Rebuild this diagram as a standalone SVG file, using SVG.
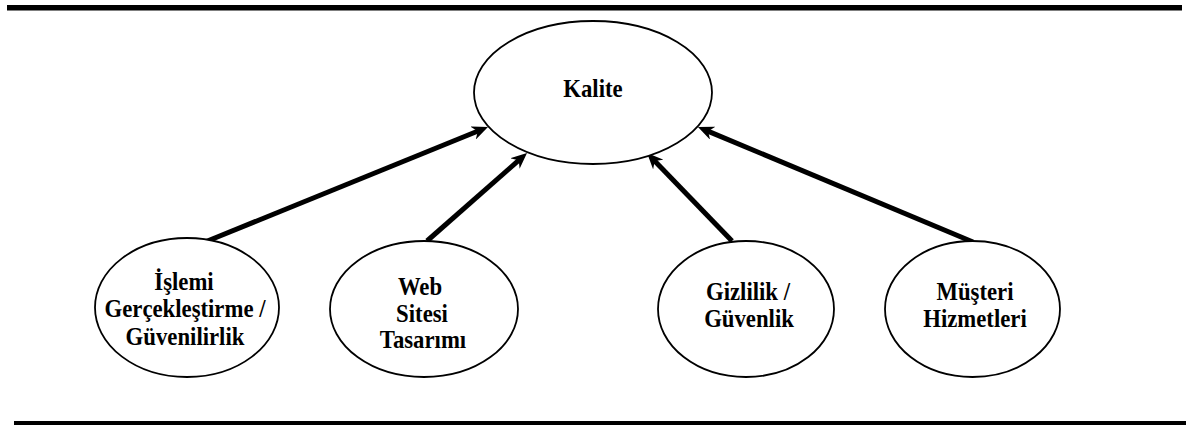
<svg xmlns="http://www.w3.org/2000/svg" width="1186" height="425" viewBox="0 0 1186 425">
  <style>
    .rule { fill: #000; }
    .node { fill: #fff; stroke: #000; stroke-width: 1.8; }
    .label { font-family: "Liberation Serif", "Times New Roman", serif; font-weight: bold; font-size: 25px; fill: #000; text-anchor: middle; }
    .link { stroke: #000; stroke-width: 5; fill: none; marker-end: url(#head); }
  </style>
  <defs>
    <marker id="head" viewBox="0 0 16 14" markerWidth="16" markerHeight="14" refX="6" refY="7" orient="auto" markerUnits="userSpaceOnUse">
      <path d="M0,0 L16,7 L0,14 L5,7 Z" fill="#000"/>
    </marker>
  </defs>

  <!-- horizontal rules -->
  <rect class="rule" x="7" y="5" width="1175" height="5.5"/>
  <rect class="rule" x="14" y="421" width="1172" height="5"/>

  <!-- connectors -->
  <g id="connectors">
    <line class="link" x1="205" y1="242" x2="478.7" y2="130.8"/>
    <line class="link" x1="427" y1="241" x2="519.5" y2="159.6"/>
    <line class="link" x1="732" y1="241" x2="654.0" y2="160.2"/>
    <line class="link" x1="973" y1="242" x2="707.2" y2="130.9"/>
  </g>

  <!-- nodes (labels are set slightly condensed) -->
  <g id="kalite">
    <ellipse class="node" cx="593" cy="92.5" rx="119" ry="71.5"/>
    <text class="label" transform="translate(593 97) scale(0.91 1)">Kalite</text>
  </g>
  <g id="islemi">
    <ellipse class="node" cx="187" cy="307.5" rx="92" ry="69.5"/>
    <text class="label" transform="translate(184 290) scale(0.91 1)">İşlemi</text>
    <text class="label" transform="translate(185 317) scale(0.91 1)">Gerçekleştirme /</text>
    <text class="label" transform="translate(185 345) scale(0.91 1)">Güvenilirlik</text>
  </g>
  <g id="web">
    <ellipse class="node" cx="424" cy="309" rx="94" ry="68"/>
    <text class="label" transform="translate(420 295) scale(0.91 1)">Web</text>
    <text class="label" transform="translate(422 322) scale(0.91 1)">Sitesi</text>
    <text class="label" transform="translate(423 348) scale(0.91 1)">Tasarımı</text>
  </g>
  <g id="gizlilik">
    <ellipse class="node" cx="746" cy="309" rx="88" ry="68"/>
    <text class="label" transform="translate(748 300) scale(0.91 1)">Gizlilik /</text>
    <text class="label" transform="translate(749 327) scale(0.91 1)">Güvenlik</text>
  </g>
  <g id="musteri">
    <ellipse class="node" cx="972.5" cy="309" rx="87.5" ry="68"/>
    <text class="label" transform="translate(975 300) scale(0.91 1)">Müşteri</text>
    <text class="label" transform="translate(975 327) scale(0.91 1)">Hizmetleri</text>
  </g>
</svg>
